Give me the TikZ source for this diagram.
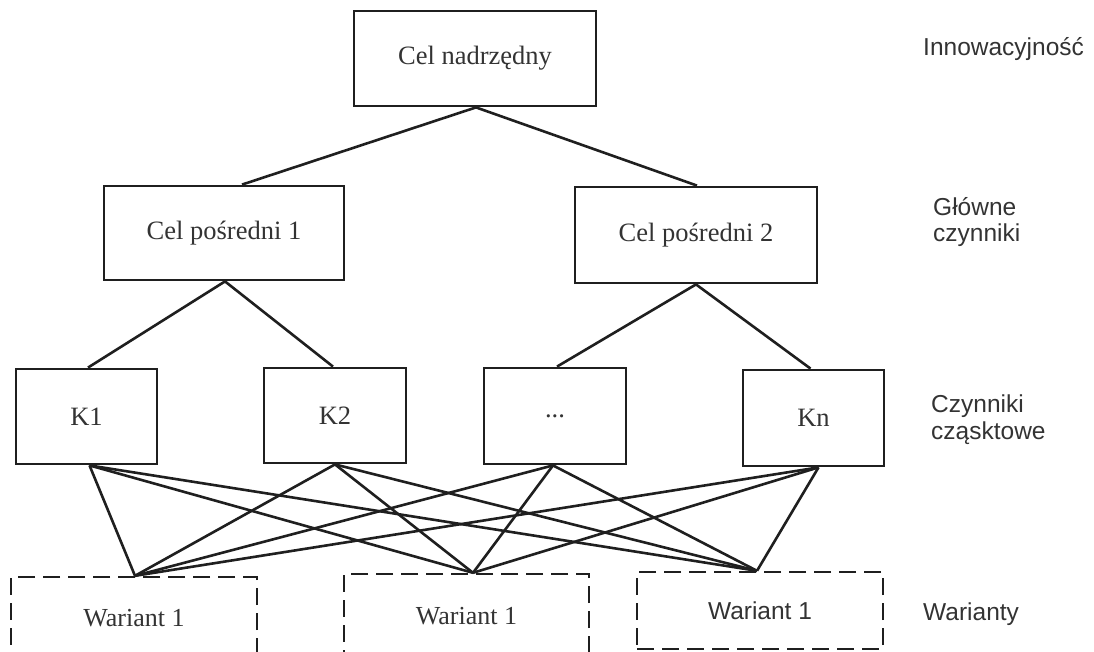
\documentclass[tikz,border=0pt]{standalone}
\usepackage{fontspec}
\setmainfont{Liberation Serif}
\newfontfamily\labelsans{Liberation Sans}
\begin{document}
\begin{tikzpicture}[x=1pt,y=-1pt,
  ink/.style={draw=black!88},
  goal/.style={ink, line width=2.8pt, rectangle, inner sep=0pt, text=black!80,
    font=\fontsize{26.5}{28}\selectfont},
  variant/.style={ink, line width=2.4pt, dash pattern=on 17pt off 8pt, rectangle,
    inner sep=0pt, text=black!80, font=\fontsize{26}{28}\selectfont},
  link/.style={ink, line width=2.6pt},
  levelname/.style={anchor=base west, inner sep=0pt, text=black!80,
    font=\labelsans\fontsize{24.5}{27}\selectfont}]

\useasboundingbox (0,0) rectangle (1094,651);
\clip (0,0) rectangle (1094,651);

% hierarchy of goals
\node[goal, minimum width=242pt, minimum height=95pt] (top) at (475,58.5) {Cel nadrzędny};
\node[goal, minimum width=240pt, minimum height=94pt] (cp1) at (224,233) {Cel pośredni 1};
\node[goal, minimum width=242pt, minimum height=96pt] (cp2) at (696,235) {Cel pośredni 2};

% partial factors
\node[goal, minimum width=141pt, minimum height=95pt] (k1) at (86.5,416.5) {K1};
\node[goal, minimum width=142pt, minimum height=95pt] (k2) at (335,415.5) {K2};
\node[goal, minimum width=142pt, minimum height=96pt] (k3) at (555,416) {...};
\node[goal, minimum width=141pt, minimum height=96pt] (kn) at (813.5,418) {Kn};

% variants (lower edge of the first two runs past the page)
\node[variant, minimum width=246pt, minimum height=82pt] (v1) at (134,618) {Wariant 1};
\node[variant, minimum width=245pt, minimum height=84pt] (v2) at (466.5,616) {Wariant 1};
\node[variant, minimum width=246pt, minimum height=77pt,
  font=\labelsans\fontsize{24.5}{27}\selectfont] (v3) at (760,610.5) {Wariant 1};

% tree links
\draw[link] ([xshift=1pt]top.south) -- ([xshift=18pt]cp1.north);
\draw[link] ([xshift=1pt]top.south) -- ([xshift=1pt]cp2.north);
\draw[link] ([xshift=1pt]cp1.south) -- ([xshift=1.5pt]k1.north);
\draw[link] ([xshift=1pt]cp1.south) -- ([xshift=-2pt]k2.north);
\draw[link] (cp2.south) -- ([xshift=2pt]k3.north);
\draw[link] (cp2.south) -- ([xshift=-3pt]kn.north);

% every factor feeds every variant
\coordinate (k1b) at ([xshift=3pt]k1.south);
\coordinate (k2b) at (k2.south);
\coordinate (k3b) at ([xshift=-2pt]k3.south);
\coordinate (knb) at ([xshift=5pt]kn.south);
\coordinate (v1t) at ([xshift=1pt]v1.north);
\coordinate (v2t) at ([xshift=6.5pt]v2.north);
\coordinate (v3t) at ([xshift=-3pt]v3.north);
\foreach \k in {k1b,k2b,k3b,knb}
  \foreach \v in {v1t,v2t,v3t}
    \draw[link] (\k) -- (\v);

% level names
\node[levelname] (l1) at (923,55) {Innowacyjność};
\node[levelname] (l2a) at (933,215) {Główne};
\node[levelname] (l2b) at (933,241) {czynniki};
\node[levelname] (l3a) at (931,412) {Czynniki};
\node[levelname] (l3b) at (931,439) {cząsktowe};
\node[levelname] (l4) at (923,620) {Warianty};
\end{tikzpicture}
\end{document}
